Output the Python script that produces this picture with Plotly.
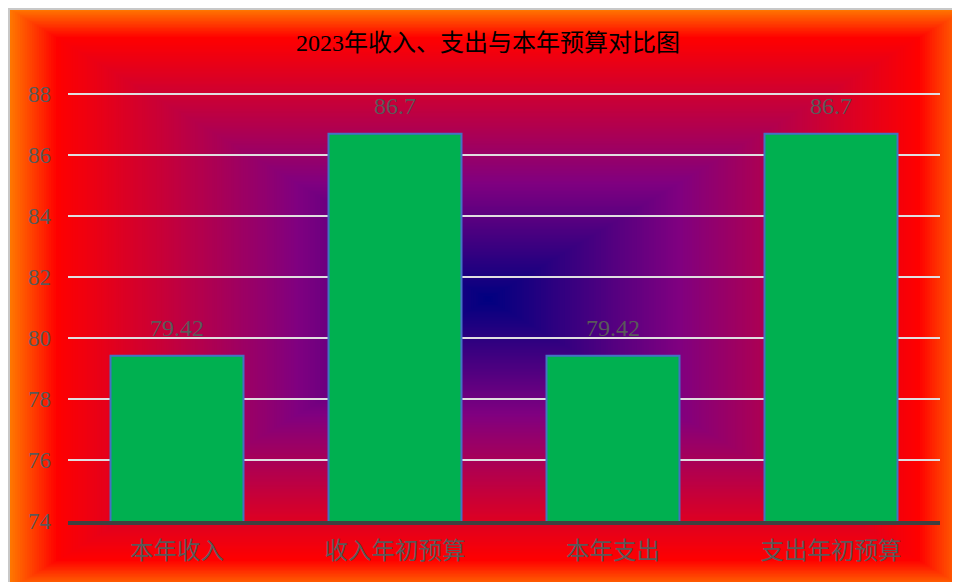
import plotly.graph_objects as go

# ---- data ----
categories = ["本年收入", "收入年初预算", "本年支出", "支出年初预算"]
values = [79.42, 86.7, 79.42, 86.7]
y_ticks = [74, 76, 78, 80, 82, 84, 86, 88]
title_text = "2023年收入、支出与本年预算对比图"

W, H = 960, 582
FONT = "Liberation Serif, Noto Sans CJK SC, serif"
OFF = 8  # page offset of the reference image


def px(x):
    return (x - OFF) / W


def py(y):
    return 1 - (y - OFF) / H


# gradient stops (t=0 center, t=1 edge)
stops = [(0.0, (0, 0, 128)), (0.4, (128, 0, 128)), (0.9, (255, 0, 0)), (1.0, (255, 122, 0))]


def grad(t):
    for (t0, c0), (t1, c1) in zip(stops[:-1], stops[1:]):
        if t <= t1:
            f = (t - t0) / (t1 - t0) if t1 > t0 else 0
            return "rgb(%d,%d,%d)" % tuple(round(a + (b - a) * f) for a, b in zip(c0, c1))
    return "rgb(%d,%d,%d)" % stops[-1][1]


shapes = []
# chart area background: rectangular path gradient
cx, cy = 488, 299
hw, hh = 480, 291
N = 200
for i in range(N):
    t = 1 - i / N
    shapes.append(dict(type="rect", xref="paper", yref="paper", layer="below",
                       x0=px(cx - hw * t), x1=px(cx + hw * t),
                       y0=py(cy + hh * t), y1=py(cy - hh * t),
                       fillcolor=grad(t), line=dict(width=0)))
shapes.append(dict(type="rect", xref="paper", yref="paper", layer="below",
                   x0=px(9), x1=px(cx + hw + 4), y0=py(cy + hh + 4), y1=py(9),
                   fillcolor="rgba(0,0,0,0)", line=dict(color="#c8c8c8", width=2)))

fig = go.Figure()
fig.add_trace(go.Bar(
    x=categories, y=values, width=0.61,
    marker=dict(color="#00b050", line=dict(color="#4472c4", width=2)),
    hoverinfo="x+y",
))

annotations = [dict(x=c, y=v, xref="x", yref="y", text=f"{v:g}", showarrow=False,
                    yshift=28, yanchor="middle",
                    font=dict(family=FONT, size=24, color="#595959"))
               for c, v in zip(categories, values)]

y0_px, unit_px = 521, 30.5
y_top = 88.8
fig.update_layout(
    width=W, height=H,
    margin=dict(l=0, r=0, t=0, b=0, autoexpand=False),
    paper_bgcolor="white", plot_bgcolor="rgba(0,0,0,0)",
    font=dict(family=FONT, size=22, color="#595959"),
    title=dict(text=title_text, x=px(488), y=py(43), xanchor="center", yanchor="middle",
               xref="paper", yref="paper",
               font=dict(family=FONT, size=24, color="black")),
    showlegend=False,
    shapes=shapes,
    annotations=annotations,
    xaxis=dict(domain=[px(68), px(940)], showgrid=False, showline=True,
               linecolor="#404040", linewidth=4, ticks="", ticklabelstandoff=6,
               tickfont=dict(family=FONT, size=23.5, color="#595959"), fixedrange=True),
    yaxis=dict(domain=[py(y0_px), py(y0_px - (y_top - 74) * unit_px)],
               range=[74, y_top], tickvals=y_ticks, showgrid=True,
               gridcolor="#e0dde0", gridwidth=2, zeroline=False, showline=False,
               ticks="", ticklabelstandoff=16,
               tickfont=dict(family=FONT, size=23, color="#595959"), fixedrange=True),
)

fig.write_html("out.html")
